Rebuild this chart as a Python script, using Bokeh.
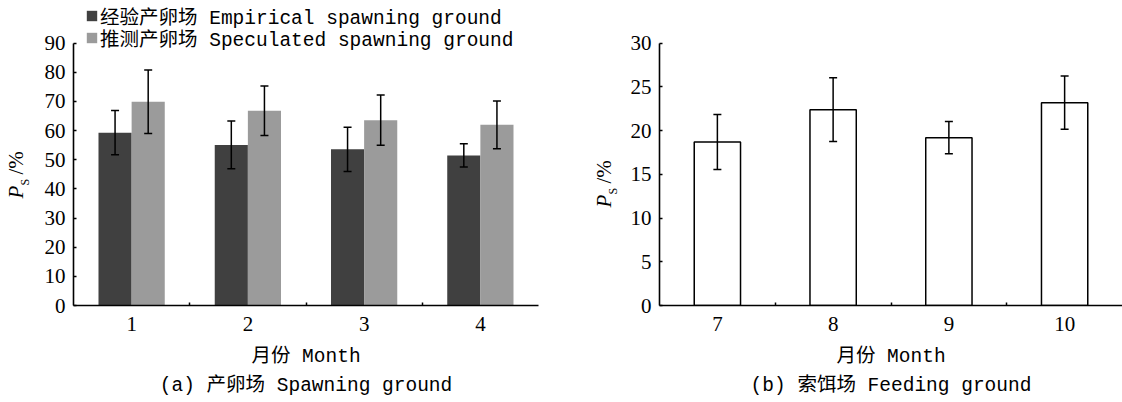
import math
import pandas as pd
from bokeh.plotting import figure
from bokeh.layouts import row
from bokeh.models import (ColumnDataSource, Range1d, FixedTicker, Whisker, TeeHead,
                          Legend, LegendItem, Label, Title)
from bokeh.embed import file_html
from bokeh.resources import INLINE

# ---------------- data ----------------
months_a = [1, 2, 3, 4]
empirical = [59.3, 55.1, 53.6, 51.5]
empirical_err = [7.6, 8.2, 7.6, 4.0]
speculated = [69.9, 66.8, 63.6, 62.0]
speculated_err = [10.9, 8.5, 8.6, 8.2]

months_b = [7, 8, 9, 10]
feeding = [18.7, 22.4, 19.2, 23.2]
feeding_err = [3.15, 3.65, 1.85, 3.05]

y_ticks_a = [0, 10, 20, 30, 40, 50, 60, 70, 80, 90]
y_ticks_b = [0, 5, 10, 15, 20, 25, 30]

legend_labels = ["经验产卵场 Empirical spawning ground", "推测产卵场 Speculated spawning ground"]
x_label = "月份 Month"
caption_a = "(a) 产卵场 Spawning ground"
caption_b = "(b) 索饵场 Feeding ground"

# ---------------- styles ----------------
TICK_FONT = "Liberation Serif"
TEXT_FONT = "'Liberation Mono', 'Noto Sans CJK SC', monospace"
TEXT_SIZE = "19.5px"
DARK = "#404040"
LIGHT = "#9b9b9b"
BAR_W_A = 0.285
BAR_W_B = 0.40
H = 402
BOTTOM = 97           # space under the plotting area
FRAME_H = H - BOTTOM  # frame runs from canvas top to the x axis
AXIS_TOP_PX = 42.7    # where the top y tick sits (px from canvas top)


def make_fig(width, bl, br, months, y_ticks):
    y_top = y_ticks[-1]
    y_end = y_top * FRAME_H / (FRAME_H - AXIS_TOP_PX)
    p = figure(width=width, height=H,
               x_range=Range1d(months[0] - 0.5, months[-1] + 0.5),
               y_range=Range1d(0, y_end),
               output_backend="svg", toolbar_location=None,
               min_border_left=bl, min_border_right=br,
               min_border_top=0, min_border_bottom=BOTTOM)
    p.grid.visible = False
    p.outline_line_color = None
    p.background_fill_color = "white"
    p.border_fill_color = "white"

    ya = p.yaxis[0]
    ya.ticker = FixedTicker(ticks=y_ticks, minor_ticks=[])
    ya.bounds = (0, y_top)
    ya.major_tick_in = 3
    ya.major_tick_out = 0
    ya.minor_tick_in = 0
    ya.minor_tick_out = 0
    ya.axis_line_width = 1.6
    ya.major_tick_line_width = 1.5
    ya.major_label_text_font = TICK_FONT
    ya.major_label_text_font_size = "21px"
    ya.major_label_text_color = "black"
    ya.major_label_standoff = 8

    xa = p.xaxis[0]
    xa.ticker = FixedTicker(ticks=months, minor_ticks=[m + 0.5 for m in months[:-1]])
    xa.major_tick_in = 0
    xa.major_tick_out = 0
    xa.minor_tick_in = 3
    xa.minor_tick_out = 0
    xa.minor_tick_line_color = "black"
    xa.minor_tick_line_width = 1.5
    xa.axis_line_width = 1.6
    xa.major_label_text_font = TICK_FONT
    xa.major_label_text_font_size = "21px"
    xa.major_label_text_color = "black"
    xa.major_label_standoff = 11
    xa.axis_label = x_label
    xa.axis_label_text_font = TEXT_FONT
    xa.axis_label_text_font_size = TEXT_SIZE
    xa.axis_label_text_font_style = "normal"
    xa.axis_label_text_color = "black"
    xa.axis_label_standoff = 12
    return p


def label_fig(width, p_x, s_x, p_y, s_y, pct_y):
    f = figure(width=width, height=H, x_range=Range1d(0, width), y_range=Range1d(0, FRAME_H),
               output_backend="svg", toolbar_location=None,
               min_border_left=0, min_border_right=0, min_border_top=0,
               min_border_bottom=BOTTOM)
    f.axis.visible = False
    f.grid.visible = False
    f.outline_line_color = None
    f.border_fill_color = "white"
    common = dict(x_units="screen", y_units="screen", angle=math.pi / 2,
                  text_baseline="alphabetic", text_align="left", text_color="black")
    f.add_layout(Label(x=p_x, y=p_y, text="P", text_font=TICK_FONT,
                       text_font_style="italic", text_font_size="21px", **common))
    f.add_layout(Label(x=s_x, y=s_y, text="S", text_font=TICK_FONT,
                       text_font_size="12px", **common))
    f.add_layout(Label(x=p_x, y=pct_y, text="/%", text_font=TICK_FONT,
                       text_font_size="21px", **common))
    return f


def add_caption(p, text):
    t = Title(text=text, align="center", text_font=TEXT_FONT, text_font_size=TEXT_SIZE,
              text_font_style="normal", text_color="black", standoff=4)
    p.add_layout(t, "below")


def whisker(src, base):
    return Whisker(source=src, base=base, upper="upper", lower="lower", dimension="height",
                   line_color="black", line_width=1.5, level="overlay",
                   upper_head=TeeHead(size=8, line_width=1.5, line_color="black"),
                   lower_head=TeeHead(size=8, line_width=1.5, line_color="black"))


def legend_row(label, renderer, vy):
    return Legend(items=[LegendItem(label=label, renderers=[renderer])],
                  location=(12, vy), orientation="vertical",
                  padding=0, margin=0, spacing=0,
                  glyph_width=13, glyph_height=13, label_height=13, label_standoff=2,
                  label_text_font=TEXT_FONT, label_text_font_size=TEXT_SIZE,
                  label_text_color="black", label_text_baseline="middle",
                  background_fill_alpha=0, border_line_color=None)

# ---------------- panel (a) ----------------
la = label_fig(40, 15, 24, 107, 120, 131)
pa = make_fig(521, 33, 23, months_a, y_ticks_a)

df_e = pd.DataFrame({"month": months_a, "val": empirical, "err": empirical_err})
df_e["x"] = df_e["month"] - BAR_W_A / 2
df_e["upper"] = df_e["val"] + df_e["err"]
df_e["lower"] = df_e["val"] - df_e["err"]
df_s = pd.DataFrame({"month": months_a, "val": speculated, "err": speculated_err})
df_s["x"] = df_s["month"] + BAR_W_A / 2
df_s["upper"] = df_s["val"] + df_s["err"]
df_s["lower"] = df_s["val"] - df_s["err"]
src_e = ColumnDataSource(df_e)
src_s = ColumnDataSource(df_s)

r_e = pa.vbar(x="x", top="val", width=BAR_W_A, bottom=0, source=src_e,
              fill_color=DARK, line_color=None)
r_s = pa.vbar(x="x", top="val", width=BAR_W_A, bottom=0, source=src_s,
              fill_color=LIGHT, line_color=None)
pa.add_layout(whisker(src_e, "x"))
pa.add_layout(whisker(src_s, "x"))

pa.add_layout(legend_row(legend_labels[0], r_e, 275))
pa.add_layout(legend_row(legend_labels[1], r_s, 253))
add_caption(pa, caption_a)

# ---------------- panel (b) ----------------
lb = label_fig(66, 42, 51, 98, 111, 122)
pb = make_fig(495, 32, 0, months_b, y_ticks_b)
df_b = pd.DataFrame({"month": months_b, "val": feeding, "err": feeding_err})
df_b["upper"] = df_b["val"] + df_b["err"]
df_b["lower"] = df_b["val"] - df_b["err"]
src_b = ColumnDataSource(df_b)
pb.vbar(x="month", top="val", width=BAR_W_B, bottom=0, source=src_b,
        fill_color="white", line_color="black", line_width=1.5)
pb.add_layout(whisker(src_b, "month"))
add_caption(pb, caption_b)

layout = row(la, pa, lb, pb)
open("out.html", "w").write(file_html(layout, INLINE))
